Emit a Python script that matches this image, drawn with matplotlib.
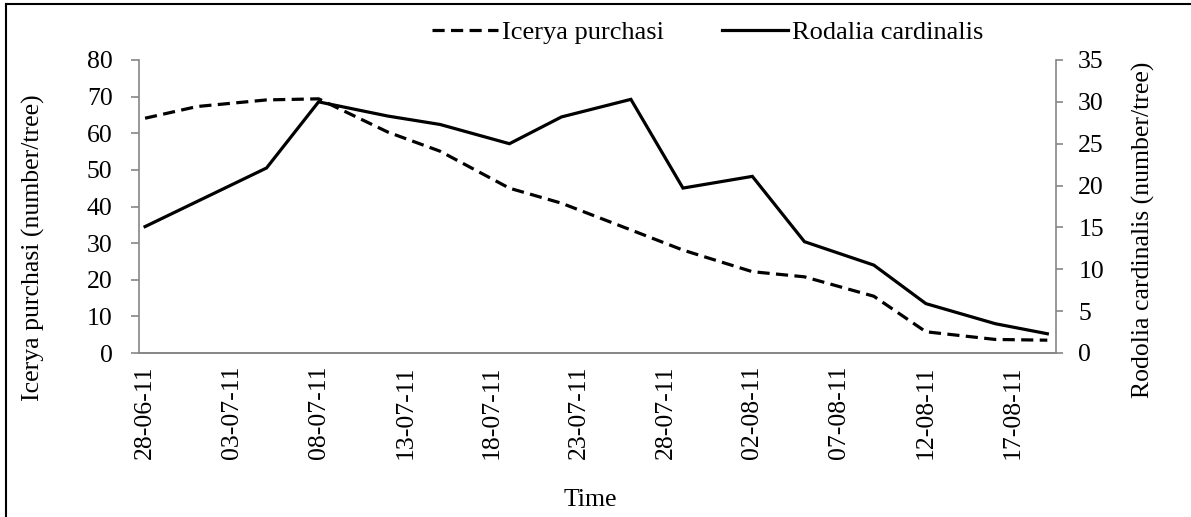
import matplotlib
matplotlib.use("Agg")
import matplotlib.pyplot as plt
import matplotlib.dates as mdates
import numpy as np
from matplotlib.lines import Line2D

plt.rcParams['font.family'] = ['Liberation Serif', 'DejaVu Serif']

# sampling dates (twice a week)
dates = np.array(['2011-06-28', '2011-07-01', '2011-07-05', '2011-07-08', '2011-07-12',
                  '2011-07-15', '2011-07-19', '2011-07-22', '2011-07-26', '2011-07-29',
                  '2011-08-02', '2011-08-05', '2011-08-09', '2011-08-12', '2011-08-16',
                  '2011-08-19'], dtype='datetime64[D]')
icerya = [64.1, 67.3, 69.1, 69.4, 60.3, 55.1, 45.0, 40.9, 33.6, 28.1,
          22.2, 20.8, 15.5, 5.8, 3.7, 3.5]
rodalia = [15.1, 18.1, 22.1, 30.0, 28.3, 27.3, 25.0, 28.2, 30.3, 19.7,
           21.1, 13.3, 10.5, 5.9, 3.5, 2.3]
tick_dates = np.arange(np.datetime64('2011-06-28'), np.datetime64('2011-08-18'), 5)

grey = '#868686'
fs = 18.5

fig = plt.figure(figsize=(11.91, 5.17), dpi=100)
ax = fig.add_axes([139 / 1191, 1 - 353 / 517, (1056 - 139) / 1191, (353 - 60) / 517])
ax2 = ax.twinx()

x = dates.astype('O')
l1, = ax.plot(x, icerya, color='black', lw=2.3, ls=(0, (3.8, 2.0)), dash_capstyle='butt')
l2, = ax2.plot(x, rodalia, color='black', lw=2.3, solid_joinstyle='miter')

ax.set_ylim(0, 80)
ax.set_yticks(np.arange(0, 81, 10))
ax2.set_ylim(0, 35)
ax2.set_yticks(np.arange(0, 36, 5))

x0 = mdates.date2num(np.datetime64('2011-06-28').astype('O'))
ax.set_xlim(x0 - 0.35, x0 + 52.5)
ax.set_xticks([mdates.date2num(d) for d in tick_dates.astype('O')])
ax.xaxis.set_major_formatter(mdates.DateFormatter('%d-%m-%y'))

for a in (ax, ax2):
    for s in a.spines.values():
        s.set_color(grey)
        s.set_linewidth(1.2)
    a.spines['top'].set_visible(False)
ax.spines['right'].set_visible(False)
ax2.spines['left'].set_visible(False)

ax.tick_params(axis='y', colors=grey, labelcolor='black', labelsize=fs, length=6, width=1.2, pad=13)
ax2.tick_params(axis='y', colors=grey, labelcolor='black', labelsize=fs, length=5, width=1.2, pad=11)
ax.tick_params(axis='x', length=0, labelsize=fs, labelrotation=90, pad=9)

ax.set_ylabel('Icerya purchasi (number/tree)', fontsize=fs)
ax.yaxis.set_label_coords((33 - 139) / 917, (353 - 248) / 293)
ax2.set_ylabel('Rodolia cardinalis (number/tree)', fontsize=fs)
ax2.yaxis.set_label_coords((1143 - 139) / 917, (353 - 230) / 293)
ax.set_xlabel('Time', fontsize=fs)
ax.xaxis.set_label_coords((590 - 139) / 917, (353 - 500) / 293)
ax.xaxis.label.set_va('center')
ax.yaxis.label.set_va('center')
ax2.yaxis.label.set_va('center')

fig.legend([l1, l2], ['Icerya purchasi', 'Rodalia cardinalis'], loc='center',
           bbox_to_anchor=(708 / 1191, 1 - 32 / 517), ncol=2, frameon=False, fontsize=19,
           handlelength=2.5, handletextpad=0.15, columnspacing=2.2)

# figure frame (left and top edges)
fig.add_artist(Line2D([6 / 1191, 6 / 1191], [0, 1 - 4 / 517], color='black', lw=1.5))
fig.add_artist(Line2D([6 / 1191, 1], [1 - 4 / 517, 1 - 4 / 517], color='black', lw=1.5))

fig.savefig('out.png', dpi=100)
